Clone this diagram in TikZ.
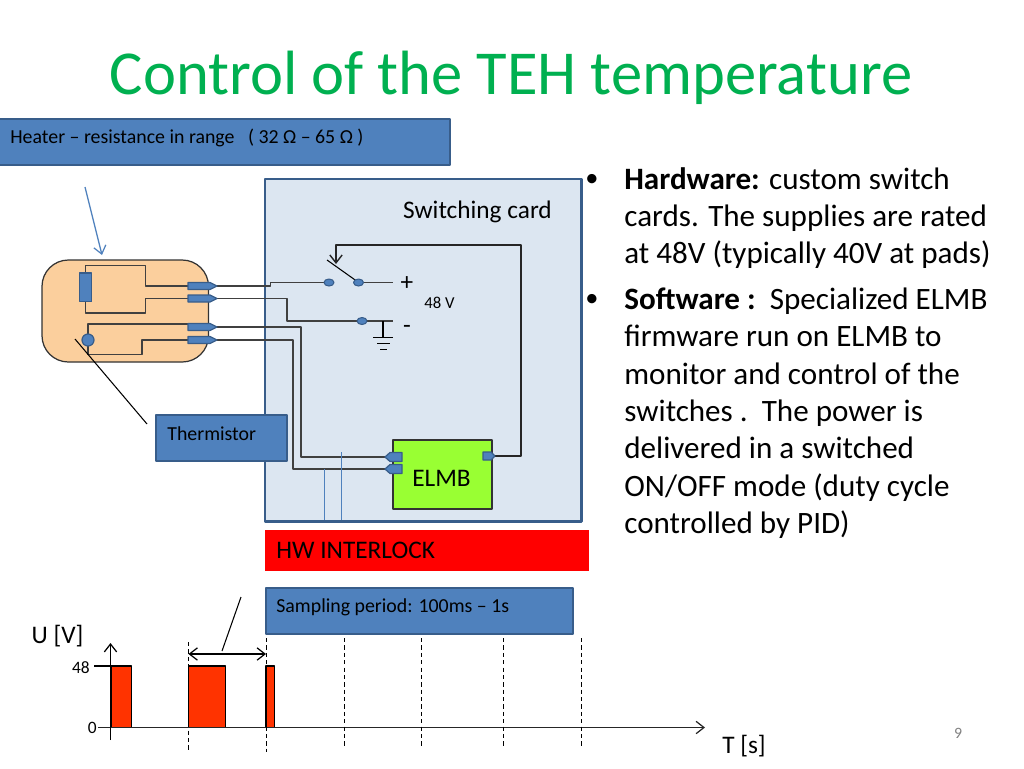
\documentclass[tikz,border=0pt]{standalone}
\usepackage{fontspec}
\setmainfont{Carlito}
\usetikzlibrary{arrows.meta}
\definecolor{boxblue}{HTML}{4F81BD}
\definecolor{boxline}{HTML}{385D8A}
\definecolor{cardfill}{HTML}{DCE6F1}
\definecolor{heatfill}{HTML}{FBCF9D}
\definecolor{elmbgreen}{HTML}{99FF33}
\definecolor{pulsered}{HTML}{FF3300}
\definecolor{titlegreen}{HTML}{00B050}
\tikzset{
	bluebox/.style={fill=boxblue, draw=boxline, line width=.7pt},
	wire/.style={line width=.85pt, draw=black!75},
	pin/.style={fill=boxblue, draw=boxline, line width=.7pt},
	term/.style={fill=boxblue, draw=boxline, line width=.6pt},
	boxtext/.style={anchor=west, inner sep=0pt, font=\fontsize{11.3}{13}\selectfont},
	bodytext/.style={anchor=north west, inner sep=0pt, align=left, font=\fontsize{17.7}{21.26}\selectfont},
	slabel/.style={inner sep=0pt, font=\fontsize{14.4}{16}\selectfont},
	tickmark/.style={dash pattern=on 2.4pt off 1.8pt, line width=.5pt},
}
\begin{document}
\begin{tikzpicture}[x=.02cm, y=-.02cm, line join=round, >={Straight Barb[length=4.5pt,width=7pt]}]
	\useasboundingbox[fill=white] (0,0) rectangle (1024,768);
	\node[text=titlegreen, inner sep=0pt, font=\fontsize{35.6}{40}\selectfont] (title) at (511,78) {Control of the TEH temperature};
	% switching card
	\draw[fill=cardfill, draw=boxline, line width=1.7pt] (265,179) rectangle (581,521);
	\node[slabel] (card) at (477.5,212) {Switching card};
	% heater
	\draw[bluebox] (-2,119) rectangle (450,165);
	\node[boxtext] (heater) at (10,137.5) {Heater – resistance in range~~ ( 32 Ω – 65 Ω )};
	\draw[fill=heatfill, draw=black!80, line width=.7pt, rounded corners=15] (42,260) rectangle (208.5,362);
	\draw[->, boxblue, line width=.7pt] (85,187) -- (102,255);
	\draw[wire] (85.5,273) -- (85.5,265.5) -- (145.5,265.5) -- (145.5,286) -- (188,286);
	\draw[wire] (85.5,301.5) -- (85.5,313) -- (145.5,313) -- (145.5,298.5) -- (188,298.5);
	\draw[pin] (79.5,273) rectangle (91.5,301.5);
	\draw[wire] (88,334) -- (88,324) -- (188,324);
	\draw[wire] (88,346) -- (88,354.5) -- (142,354.5) -- (142,340) -- (188,340);
	\draw[pin] (88,340) circle (6);
	% wires to the card
	\draw[wire] (217,286) -- (270.5,286) -- (270.5,282.5) -- (329,282.5);
	\draw[wire] (358.5,282.5) -- (393,282.5);
	\draw[wire] (217,298.5) -- (287,298.5) -- (287,321) -- (393,321);
	\draw[wire] (217,327) -- (301,327) -- (301,457) -- (386,457);
	\draw[wire] (217,340) -- (293,340) -- (293,469) -- (386,469);
	\foreach \y in {286,298.5,327,340}
		\draw[pin] (188,\y-3.5) -- (210,\y-3.5) -- (217,\y) -- (210,\y+3.5) -- (188,\y+3.5) -- cycle;
	% switch
	\draw[line width=.6pt] (327,260) -- (358,282);
	\draw[->, line width=.8pt, draw=black!85] (495,456) -- (521,456) -- (521,245) -- (336,245) -- (336,264);
	\draw[term] (329,282.5) ellipse (5 and 3.5);
	\draw[term] (358.5,282.5) ellipse (5 and 3.5);
	\draw[term] (362,321) ellipse (5 and 3.5);
	% ground
	\draw[line width=.6pt] (383,321) -- (383,337.5);
	\draw[line width=.6pt] (373,337.5) -- (393,337.5);
	\draw[line width=.6pt] (377,343.5) -- (390,343.5);
	\draw[line width=.6pt] (380,349.5) -- (387,349.5);
	\node[inner sep=0pt, font=\fontsize{14.4}{16}\selectfont] (plus) at (407,284) {+};
	\node[inner sep=0pt, font=\fontsize{9.5}{11}\selectfont] (volt) at (439.5,302.5) {48 V};
	\node[inner sep=0pt, font=\fontsize{14.4}{16}\selectfont] (minus) at (407,329) {-};
	% elmb
	\draw[fill=elmbgreen, draw=black!80, line width=.6pt] (393,440) rectangle (492,509);
	\node[slabel] (elmb) at (441.5,478.5) {ELMB};
	\foreach \y in {457,469}
		\draw[pin] (402,\y-4.5) -- (390,\y-4.5) -- (385,\y) -- (390,\y+4.5) -- (402,\y+4.5) -- cycle;
	\draw[pin] (483,452) -- (491,452) -- (495,456) -- (491,460) -- (483,460) -- cycle;
	\draw[boxblue, line width=.5pt] (324,469) -- (324,520);
	\draw[boxblue, line width=.5pt] (341,452) -- (341,520);
	% thermistor
	\draw[bluebox] (156,415) rectangle (287,461);
	\node[boxtext] (therm) at (167,434) {Thermistor};
	\draw[line width=.6pt] (75,339) -- (147,424);
	% interlock and sampling
	\fill[red] (265,530) rectangle (589,571);
	\node[anchor=west, inner sep=0pt, font=\fontsize{14.4}{16}\selectfont] (lock) at (276,550) {HW INTERLOCK};
	\draw[bluebox] (266,588) rectangle (573,634);
	\node[boxtext] (sampling) at (276,607.5) {Sampling period: 100ms – 1s};
	\draw[line width=.6pt] (241,597) -- (222,651);
	% pulses
	\draw[fill=pulsered, line width=.6pt] (111,666) rectangle (131.5,727.5);
	\draw[fill=pulsered, line width=.6pt] (188.5,666) rectangle (225.5,727.5);
	\draw[fill=pulsered, line width=.6pt] (266,666) rectangle (274.5,727.5);
	\draw[->, line width=.7pt, draw=black!85] (98,727.5) -- (705,727.5);
	\draw[->, line width=.7pt] (110.5,740) -- (110.5,643);
	\draw[line width=.6pt] (94,666) -- (110.5,666);
	\foreach \x/\a/\b in {188.5/642/752, 266/638/752, 344/638/748, 421/638/748, 503/638/748, 581/638/748}
		\draw[tickmark] (\x,\a) -- (\x,\b);
	\draw[<->, line width=.7pt] (188.5,654) -- (266,654);
	\node[inner sep=0pt, font=\fontsize{14.4}{16}\selectfont] (uaxis) at (57.5,636) {U [V]};
	\node[anchor=east, inner sep=0pt, font=\fontsize{9.9}{11}\selectfont] (top) at (90,668) {48};
	\node[anchor=east, inner sep=0pt, font=\fontsize{9.9}{11}\selectfont] (zero) at (97,727.5) {0};
	\node[inner sep=0pt, font=\fontsize{14.4}{16}\selectfont] (taxis) at (744,746) {T [s]};
	\node[inner sep=0pt, text=black!50, font=\fontsize{9}{10}\selectfont] (page) at (958,733) {9};
	% text on the right
	\node[bodytext, font=\fontsize{15}{18}\selectfont] (bulletA) at (585,174) {•};
	\node[bodytext] (hardware) at (624,167) {\textbf{Hardware:} custom switch\\cards. The supplies are rated\\at 48V (typically 40V at pads)};
	\node[bodytext, font=\fontsize{15}{18}\selectfont] (bulletB) at (585,294) {•};
	\node[bodytext] (software) at (624,287.5) {\textbf{Software :}\ \ Specialized ELMB\\firmware run on ELMB to\\monitor and control of the\\switches .\ \ The power is\\delivered in a switched\\ON/OFF mode (duty cycle\\controlled by PID)};
\end{tikzpicture}
\end{document}
